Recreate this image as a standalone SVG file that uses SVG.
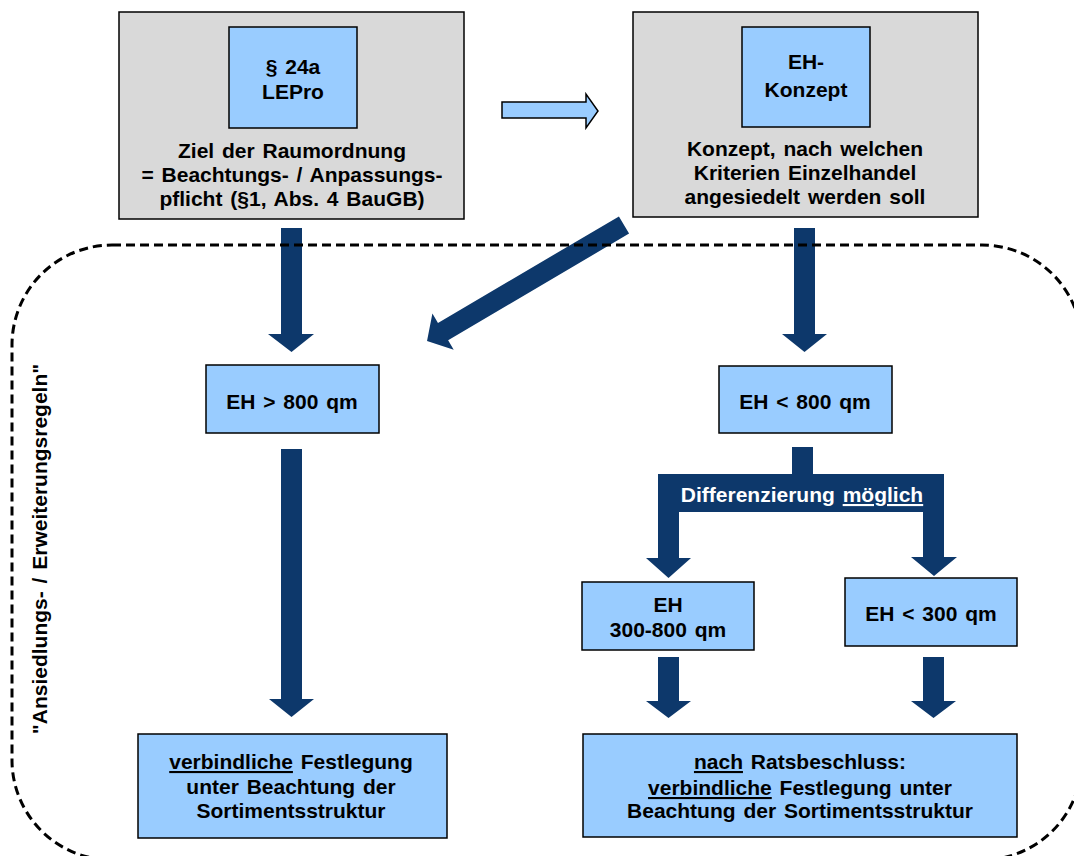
<svg xmlns="http://www.w3.org/2000/svg" width="1074" height="856" viewBox="0 0 1074 856">
<style>
.grey{fill:#d9d9d9;stroke:#000;stroke-width:1.5}
.blue{fill:#99ccff;stroke:#000;stroke-width:1.5}
.t{font-family:"Liberation Sans",Arial,sans-serif;font-weight:bold;font-size:21px;fill:#000;text-anchor:middle;word-spacing:2px}
.w{fill:#fff}
.arr{fill:#0d386b}
.u{text-decoration:underline}
.dash{fill:none;stroke:#000;stroke-width:3;stroke-dasharray:9 5}
</style>
<rect width="1074" height="856" fill="#fff"/>

<g id="node-lepro">
<rect class="grey" x="119" y="12" width="345" height="207"/>
<rect class="blue" x="229" y="27" width="128" height="101"/>
<text class="t" x="293" y="74">§ 24a</text>
<text class="t" x="293" y="99">LEPro</text>
<text class="t" x="292" y="158">Ziel der Raumordnung</text>
<text class="t" x="292" y="182">= Beachtungs-  / Anpassungs-</text>
<text class="t" x="292" y="206">pflicht (§1, Abs. 4 BauGB)</text>
</g>

<g id="node-ehkonzept">
<rect class="grey" x="633" y="12" width="345" height="205"/>
<rect class="blue" x="742" y="27" width="128" height="100"/>
<text class="t" x="806" y="69">EH-</text>
<text class="t" x="806" y="97">Konzept</text>
<text class="t" x="805" y="156">Konzept, nach welchen</text>
<text class="t" x="805" y="180">Kriterien Einzelhandel</text>
<text class="t" x="805" y="204">angesiedelt werden soll</text>
</g>

<g id="node-gt800">
<rect class="blue" x="206" y="365" width="173" height="68"/>
<text class="t" x="292" y="409">EH &gt; 800 qm</text>
</g>

<g id="node-lt800">
<rect class="blue" x="719" y="366" width="173" height="67"/>
<text class="t" x="805" y="409">EH &lt; 800 qm</text>
</g>

<g id="node-300-800">
<rect class="blue" x="582" y="582" width="172" height="68"/>
<text class="t" x="668" y="612">EH</text>
<text class="t" x="668" y="637">300-800 qm</text>
</g>

<g id="node-lt300">
<rect class="blue" x="845" y="578" width="172" height="68"/>
<text class="t" x="931" y="621">EH &lt; 300 qm</text>
</g>

<g id="node-result-left">
<rect class="blue" x="138" y="734" width="309" height="104"/>
<text class="t" x="291" y="769"><tspan class="u">verbindliche</tspan> Festlegung</text>
<text class="t" x="291" y="794">unter Beachtung der</text>
<text class="t" x="291" y="818">Sortimentsstruktur</text>
</g>

<g id="node-result-right">
<rect class="blue" x="583" y="734" width="434" height="103"/>
<text class="t" x="800" y="769"><tspan class="u">nach</tspan> Ratsbeschluss:</text>
<text class="t" x="800" y="795"><tspan class="u">verbindliche</tspan> Festlegung unter</text>
<text class="t" x="800" y="818">Beachtung der Sortimentsstruktur</text>
</g>

<g id="connectors">
<path d="M502,102 H586 V94 L598,111 L586,128 V118 H502 Z" fill="#99ccff" stroke="#000" stroke-width="1.5"/>
<path class="arr" d="M281,228 H302 V334 H314 L291.5,352 L268,334 H281 Z"/>
<path class="arr" d="M794,228 H815 V334 H827 L804.5,352 L782,334 H794 Z"/>
<path class="arr" transform="translate(624,225) rotate(149.5)" d="M0,-10 H210 V-21 L228.6,0 L210,21 V10 H0 Z"/>
<path class="arr" d="M281,449 H302 V699 H314 L291.5,717 L269,699 H281 Z"/>
<path class="arr" d="M792,447 H813 V474 H944 V557 H957 L934,576 L911,557 H923 V512 H679 V558 H691 L668.5,578 L646,558 H658 V474 H792 Z"/>
<text class="t w" x="802" y="502">Differenzierung <tspan class="u">möglich</tspan></text>
<path class="arr" d="M658,657 H679 V701 H691 L668.5,718 L646,701 H658 Z"/>
<path class="arr" d="M923,657 H944 V701 H956 L933.5,718 L911,701 H923 Z"/>
</g>

<g id="boundary">
<rect class="dash" x="12" y="245" width="1070" height="615" rx="100" ry="100"/>
<text class="t" transform="translate(47,549) rotate(-90)">"Ansiedlungs- / Erweiterungsregeln"</text>
</g>
</svg>
